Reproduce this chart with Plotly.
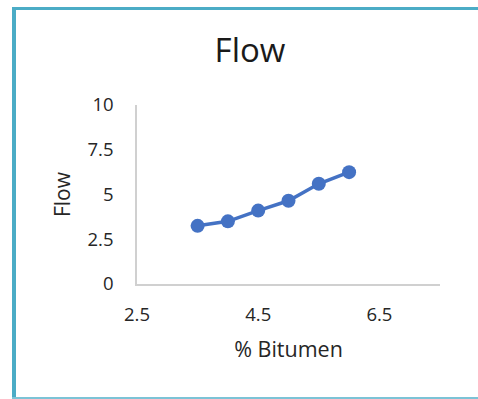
import plotly.graph_objects as go

bitumen = [3.5, 4.0, 4.5, 5.0, 5.5, 6.0]
flow = [3.25, 3.5, 4.1, 4.65, 5.6, 6.25]
x_ticks = [2.5, 4.5, 6.5]
y_ticks = [0, 2.5, 5, 7.5, 10]
y_tick_text = ["0", "2.5", "5", "7.5", "10"]

W, H = 478, 399
ML, MR, MT, MB = 137, 38, 105, 115
PW, PH = W - ML - MR, H - MT - MB

def px(xp):
    return (xp - ML) / PW

def py(yp):
    return (H - MB - yp) / PH

FONT = "Open Sans"
TXT = "#262626"
BORDER = "#4BACC6"

fig = go.Figure()
fig.add_trace(go.Scatter(
    x=bitumen, y=flow, mode="lines+markers",
    line=dict(color="#4472C4", width=3.5),
    marker=dict(color="#4472C4", size=14),
    showlegend=False,
))

def hpath(x0, x1, y):
    return f"M {px(x0)},{py(y)} L {px(x1)},{py(y)}"

def vpath(x, y0, y1):
    return f"M {px(x)},{py(y0)} L {px(x)},{py(y1)}"

fig.update_layout(
    width=W, height=H,
    margin=dict(l=ML, r=MR, t=MT, b=MB),
    paper_bgcolor="white", plot_bgcolor="white",
    font=dict(family=FONT, color=TXT, size=18.5),
    title=dict(text="Flow", x=0.523, xanchor="center", y=1 - 50 / H, yanchor="middle",
               font=dict(size=33, family=FONT, color="#1a1a1a")),
    xaxis=dict(range=[2.5, 7.5], tickvals=x_ticks, ticktext=[str(v) for v in x_ticks],
               showgrid=False, zeroline=False, showline=True, linecolor="#D0D0D0", linewidth=1.5,
               ticks="", ticklabelstandoff=13,
               title=dict(text="% Bitumen", standoff=17, font=dict(size=21.5))),
    yaxis=dict(range=[0, 10], tickvals=y_ticks, ticktext=y_tick_text,
               showgrid=False, zeroline=False, showline=True, linecolor="#D0D0D0", linewidth=1.5,
               ticks="", ticklabelstandoff=18,
               title=dict(text="Flow", standoff=11, font=dict(size=21))),
    shapes=[
        dict(type="path", xref="paper", yref="paper", path=vpath(14, 8, 400),
             line=dict(color=BORDER, width=4)),
        dict(type="path", xref="paper", yref="paper", path=hpath(12, 480, 8.5),
             line=dict(color=BORDER, width=3)),
        dict(type="path", xref="paper", yref="paper", path=hpath(12, 480, 398),
             line=dict(color="#7CC3D6", width=2)),
    ],
)

fig.write_html("out.html")
